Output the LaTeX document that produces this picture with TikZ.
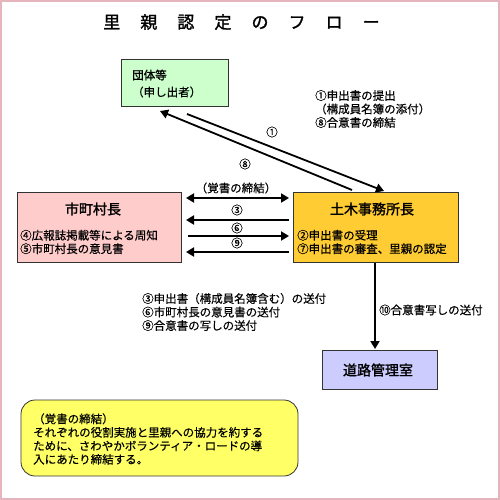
\documentclass[tikz,border=0pt]{standalone}
\usepackage{fontspec}
\setmainfont{Noto Sans CJK JP}[FakeBold=0.4]
\newfontfamily\jpb{Noto Sans CJK JP}[FakeBold=1.5]
\usetikzlibrary{arrows.meta}
\definecolor{bordpink}{HTML}{E6B4BC}
\definecolor{bxgreen}{HTML}{CCFFCC}
\definecolor{bxpink}{HTML}{FFCCCC}
\definecolor{bxgold}{HTML}{FFCC33}
\definecolor{bxlav}{HTML}{CCCCFF}
\definecolor{bxyel}{HTML}{FFFF66}
\tikzset{
  box/.style={draw=black!80, line width=0.8pt, inner sep=0pt},
  txt/.style={font=\fontsize{11.5}{13.5}\selectfont, inner sep=0pt, anchor=west, align=left},
  lbl/.style={font=\fontsize{11.5}{13.5}\selectfont, inner sep=0pt},
  head/.style={font=\fontsize{14}{16}\selectfont\jpb, inner sep=0pt},
  arr/.style={line width=1.8pt, -{Triangle[length=8pt,width=9pt]}},
  darr/.style={line width=1.8pt, {Triangle[length=8pt,width=9pt]}-{Triangle[length=8pt,width=9pt]}},
}
\begin{document}
\begin{tikzpicture}[x=1pt,y=-1pt]
\useasboundingbox (0,0) rectangle (500,500);
\draw[bordpink, line width=2pt] (1,1) rectangle (499,499);
% title
\node[inner sep=0pt, font=\fontsize{17}{20}\selectfont\jpb] (title) at (241.5,22) {里\hspace{1.18em}親\hspace{1.18em}認\hspace{1.18em}定\hspace{1.18em}の\hspace{1.18em}フ\hspace{1.18em}ロ\hspace{1.18em}ー};
% boxes
\draw[box, fill=bxgreen] (121,59) rectangle (228,106);
\node[txt] (dantai) at (132,75) {\jpb 団体等};
\node[txt] (dantai2) at (132,92) {（申し出者）};
\coordinate (dA) at (160,111);
\coordinate (dB) at (187,114);

\draw[box, fill=bxpink] (17,192) rectangle (181,262);
\node[head] (shicho) at (93,209) {市町村長};
\node[txt] (shi1) at (20,242) {④広報誌掲載等による周知\\⑤市町村長の意見書};

\draw[box, fill=bxgold] (293,192) rectangle (458,262);
\node[head] (doboku) at (372,209) {土木事務所長};
\node[txt] (dob1) at (297,242) {②申出書の受理\\⑦申出書の審査、里親の認定};
\coordinate (tA) at (352,190);
\coordinate (tB) at (384,191);
\coordinate (tC) at (375,263);

\draw[box, fill=bxlav] (322,350) rectangle (437,389);
\node[head] (doro) at (378,370) {道路管理室};
\coordinate (rT) at (375,349);

% diagonal arrows
\draw[arr] (tA) -- (dA);
\draw[arr] (dB) -- (tB);
\node[lbl] (l1) at (272,132) {①};
\node[lbl] (l8) at (245,164) {⑧};
\node[txt] (rtext) at (315,109) {①申出書の提出\\（構成員名簿の添付）\\⑧合意書の締結};

% horizontal arrows
\coordinate (h1L) at (186,198); \coordinate (h1R) at (289,198);
\coordinate (h2L) at (186,220); \coordinate (h2R) at (289,220);
\coordinate (h3L) at (188,236); \coordinate (h3R) at (289,236);
\coordinate (h4L) at (186,252); \coordinate (h4R) at (289,252);
\draw[darr] (h1L) -- (h1R);
\draw[arr] (h2R) -- (h2L);
\draw[arr] (h3L) -- (h3R);
\draw[arr] (h4R) -- (h4L);
\node[lbl] (oboe) at (236,188) {（覚書の締結）};
\node[lbl] (l3) at (237,210) {③};
\node[lbl] (l6) at (237,228) {⑥};
\node[lbl] (l9) at (237,243) {⑨};

% vertical arrow
\draw[arr] (tC) -- (rT);
\node[txt] (l10) at (379,310) {⑩合意書写しの送付};
\node[txt] (ltext) at (142,312) {③申出書（構成員名簿含む）の送付\\⑥市町村長の意見書の送付\\⑨合意書の写しの送付};

% note
\draw[box, fill=bxyel, rounded corners=14pt] (21,400) rectangle (298,476);
\node[txt] (note) at (33,439) {（覚書の締結）\\それぞれの役割実施と里親への協力を約する\\ために、さわやかボランティア・ロードの導\\入にあたり締結する。};
\end{tikzpicture}
\end{document}
